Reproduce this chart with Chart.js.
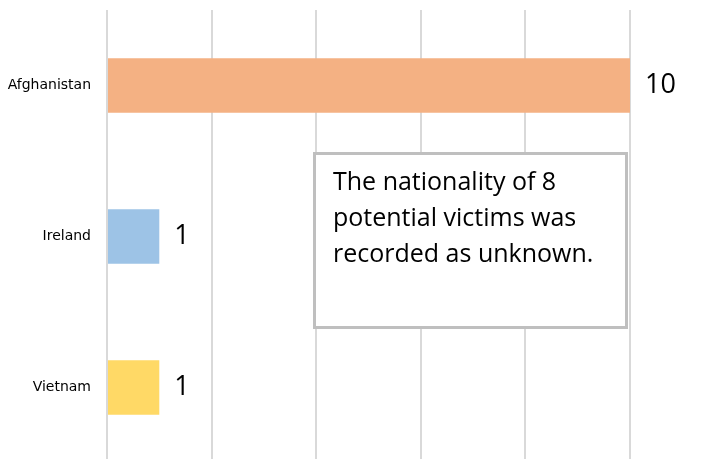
<!DOCTYPE html>
<html>
<head>
<meta charset="utf-8">
<script src="https://cdn.jsdelivr.net/npm/chart.js@4/dist/chart.umd.min.js"></script>
<style>
  html, body { margin: 0; padding: 0; background: #fff; overflow: hidden; }
  #wrap { width: 727px; height: 470px; }
</style>
</head>
<body>
<div id="wrap"><canvas id="chart"></canvas></div>
<script>
// --- data ---
const countries = ['Afghanistan', 'Ireland', 'Vietnam'];
const victims = [10, 1, 1];
const barColors = ['#F4B183', '#9DC3E6', '#FFD966'];
const xTicks = [0, 2, 4, 6, 8, 10];
const noteLines = ['The nationality of 8', 'potential victims was', 'recorded as unknown.'];

// value labels at the end of each bar
const valueLabels = {
  id: 'valueLabels',
  afterDatasetsDraw(chart) {
    const ctx = chart.ctx;
    const meta = chart.getDatasetMeta(0);
    ctx.save();
    ctx.font = '27px "Open Sans", sans-serif';
    ctx.fillStyle = '#000';
    ctx.textAlign = 'left';
    ctx.textBaseline = 'middle';
    meta.data.forEach((bar, i) => {
      ctx.fillText(String(victims[i]), bar.x + 15, bar.y);
    });
    ctx.restore();
  }
};

// note box sitting over the grid
const noteBox = {
  id: 'noteBox',
  afterDraw(chart) {
    const ctx = chart.ctx;
    const a = chart.chartArea;
    const x = a.left + 206, y = 152, w = 315, h = 177;
    ctx.save();
    ctx.fillStyle = '#fff';
    ctx.fillRect(x, y, w, h);
    ctx.strokeStyle = '#BFBFBF';
    ctx.lineWidth = 3;
    ctx.strokeRect(x + 1.5, y + 1.5, w - 3, h - 3);
    ctx.fillStyle = '#000';
    ctx.font = '25px "Open Sans", sans-serif';
    ctx.textAlign = 'left';
    ctx.textBaseline = 'alphabetic';
    noteLines.forEach((line, i) => {
      ctx.fillText(line, x + 20, y + 38 + i * 36);
    });
    ctx.restore();
  }
};

new Chart(document.getElementById('chart'), {
  type: 'bar',
  data: {
    labels: countries,
    datasets: [{
      data: victims,
      backgroundColor: barColors,
      borderWidth: 0,
      barPercentage: 0.36,
      categoryPercentage: 1
    }]
  },
  options: {
    indexAxis: 'y',
    responsive: true,
    maintainAspectRatio: false,
    animation: false,
    layout: { padding: { top: 10, right: 97, bottom: 7, left: 0 } },
    plugins: { legend: { display: false }, tooltip: { enabled: false } },
    scales: {
      x: {
        min: 0, max: 10,
        afterBuildTicks: s => { s.ticks = xTicks.map(v => ({ value: v })); },
        ticks: { display: false },
        grid: { color: '#D9D9D9', lineWidth: 2, drawTicks: false },
        border: { display: false }
      },
      y: {
        afterFit: s => { s.width = 107; s.paddingTop = 0; s.paddingBottom = 0; },
        ticks: { color: '#000', padding: 16, font: { family: '"DejaVu Sans", sans-serif', size: 14 } },
        grid: { display: false, drawTicks: false },
        border: { display: false }
      }
    }
  },
  plugins: [valueLabels, noteBox]
});
</script>
</body>
</html>
